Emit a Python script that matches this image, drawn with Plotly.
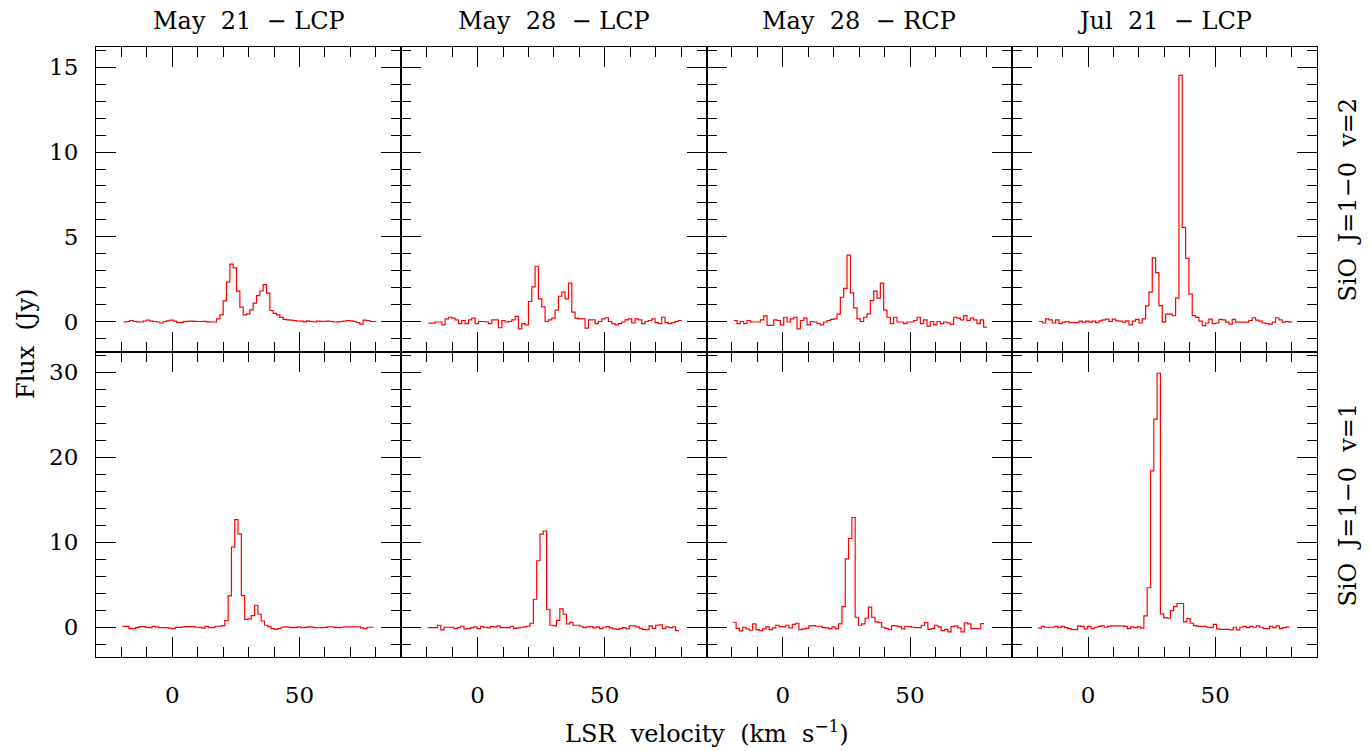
import numpy as np
import plotly.graph_objects as go
from plotly.subplots import make_subplots

# Velocity channel grids (km/s): first channel edge, channel width, number of channels
V0_V2, DV_V2 = -19.3, 1.31    # SiO v=2 spectra
V0_V1, DV_V1 = -19.66, 1.30   # SiO v=1 spectra
N_CHAN = 76

NB = "\u00a0"  # non-breaking space, keeps the wide word gaps

# Column headings and row labels
col_titles = [f"May{NB}{NB}21{NB}{NB}\u2212{NB}LCP", f"May{NB}{NB}28{NB}{NB}\u2212{NB}LCP",
              f"May{NB}{NB}28{NB}{NB}\u2212{NB}RCP", f"Jul{NB}{NB}21{NB}{NB}\u2212{NB}LCP"]
row_labels = [f"SiO{NB}{NB}J=1\u22120{NB}{NB}v=2", f"SiO{NB}{NB}J=1\u22120{NB}{NB}v=1"]
x_title = f"LSR{NB}{NB}velocity{NB}{NB}(km{NB}{NB}s<sup>\u22121</sup>)"
y_title = f"Flux{NB}{NB}(Jy)"

# Flux density (Jy) per channel, SiO J=1-0 v=2
v2_may21_lcp = [
    -0.03, 0.0, 0.06, 0.0, -0.02, -0.03, 0.03, 0.08, 0.02, 0.0,
    -0.03, -0.09, 0.0, 0.04, 0.08, 0.02, -0.05, -0.07, -0.01, 0.01,
    0.02, 0.01, 0.0, 0.0, 0.01, -0.02, -0.03, -0.03, 0.16, 0.39,
    1.22, 2.32, 3.39, 3.16, 1.79, 0.85, 0.39, 0.45, 0.69, 1.08,
    1.53, 1.8, 2.18, 1.67, 0.65, 0.48, 0.39, 0.24, 0.12, 0.1,
    0.08, 0.05, 0.03, 0.02, -0.02, 0.04, 0.0, -0.03, 0.02, 0.01,
    0.01, 0.02, 0.0, -0.03, -0.02, 0.0, 0.02, 0.06, 0.04, 0.0,
    -0.06, -0.15, 0.08, 0.06, 0.0, 0.0]
v2_may28_lcp = [
    -0.1, -0.1, -0.03, -0.03, -0.2, 0.16, 0.25, 0.2, 0.1, -0.13,
    0.06, -0.13, 0.1, 0.2, -0.13, 0.0, 0.0, -0.03, -0.13, 0.1,
    0.1, -0.37, 0.06, -0.03, 0.0, 0.1, 0.3, -0.43, -0.13, -0.2,
    1.18, 2.04, 3.26, 1.33, 0.86, 0.0, 0.1, 0.2, 0.67, 1.49,
    1.73, 1.33, 2.27, 0.55, 0.2, 0.16, 0.16, -0.39, 0.1, 0.1,
    -0.13, 0.0, 0.16, 0.22, 0.0, -0.13, -0.2, -0.13, -0.03, 0.1,
    0.16, -0.08, 0.16, 0.1, -0.13, 0.0, 0.06, 0.16, -0.07, -0.13,
    0.25, -0.07, -0.13, -0.07, 0.0, 0.06]
v2_may28_rcp = [
    0.06, -0.13, 0.0, -0.13, 0.06, -0.03, -0.03, -0.03, 0.1, 0.33,
    -0.23, -0.23, 0.1, 0.06, -0.2, 0.25, -0.03, 0.16, 0.25, -0.43,
    0.06, 0.2, -0.2, 0.0, -0.03, -0.13, -0.2, -0.03, 0.06, 0.12,
    0.16, 0.43, 1.43, 1.96, 3.92, 1.69, 0.8, 0.16, 0.0, 0.25,
    0.45, 1.24, 1.79, 1.38, 2.27, 0.67, 0.25, -0.13, 0.25, -0.03,
    -0.03, -0.13, -0.03, -0.03, 0.06, 0.25, -0.13, 0.1, -0.27, 0.0,
    -0.2, 0.0, -0.13, -0.03, -0.08, -0.17, 0.25, 0.2, 0.1, 0.35,
    0.06, 0.2, 0.1, -0.13, 0.1, -0.33]
v2_jul21_lcp = [
    0.0, -0.09, 0.16, 0.1, -0.09, 0.1, -0.13, -0.04, 0.0, -0.07,
    -0.07, -0.07, 0.02, -0.04, 0.02, -0.04, 0.02, -0.07, 0.04, 0.1,
    0.14, 0.0, 0.14, 0.04, 0.02, -0.04, 0.04, -0.2, 0.02, 0.12,
    -0.09, 0.16, 0.92, 1.73, 3.75, 2.88, 0.94, -0.04, 0.43, 0.43,
    0.34, 1.38, 14.53, 5.55, 3.73, 1.61, 0.35, 0.24, 0.02, -0.24,
    -0.09, 0.14, -0.13, -0.09, 0.12, 0.1, -0.04, -0.16, 0.12, -0.04,
    -0.04, -0.04, -0.04, 0.06, 0.22, 0.08, 0.02, -0.09, -0.13, -0.16,
    -0.04, 0.22, 0.1, -0.04, 0.0, -0.04]

# Flux density (Jy) per channel, SiO J=1-0 v=1
v1_may21_lcp = [
    0.1, 0.1, -0.15, -0.15, -0.04, 0.07, 0.07, -0.02, -0.04, 0.1,
    0.05, -0.04, -0.04, -0.04, -0.1, -0.15, -0.02, -0.02, 0.05, 0.07,
    0.07, 0.07, 0.0, -0.02, -0.11, 0.1, -0.04, -0.04, 0.12, 0.12,
    0.2, 0.78, 3.69, 9.44, 12.67, 11.0, 3.73, 0.94, 0.98, 1.37,
    2.59, 1.53, 0.74, 0.24, 0.08, -0.15, -0.24, -0.15, 0.0, 0.05,
    0.02, -0.04, -0.02, 0.04, -0.04, -0.02, 0.05, 0.02, -0.04, -0.06,
    -0.04, -0.02, 0.05, 0.06, -0.02, -0.04, 0.0, 0.04, 0.05, 0.05,
    0.04, 0.06, -0.08, -0.15, 0.0, 0.0]
v1_may28_lcp = [
    -0.04, -0.04, -0.04, 0.24, -0.31, 0.0, 0.0, 0.0, -0.15, -0.04,
    0.12, -0.2, -0.15, -0.04, 0.04, -0.15, 0.08, 0.0, -0.08, 0.08,
    0.04, 0.16, -0.04, -0.04, -0.04, 0.12, -0.12, -0.08, 0.0, 0.04,
    0.12, 0.47, 3.3, 7.83, 10.97, 11.33, 2.12, 0.24, 0.16, 0.82,
    2.16, 1.53, 0.39, 0.59, 0.24, 0.24, 0.12, -0.04, 0.04, 0.08,
    -0.08, 0.04, -0.16, 0.0, 0.08, -0.08, -0.2, -0.24, -0.16, -0.04,
    -0.2, 0.16, 0.16, 0.04, -0.12, -0.28, -0.28, 0.16, -0.12, 0.24,
    0.28, -0.16, 0.04, -0.04, 0.04, -0.4]
v1_may28_rcp = [
    0.59, -0.12, -0.43, 0.0, -0.2, -0.35, 0.39, -0.28, -0.4, -0.2,
    0.04, -0.28, -0.08, 0.24, 0.08, 0.04, 0.24, -0.08, 0.35, 0.47,
    -0.28, -0.2, -0.12, 0.16, 0.2, 0.12, 0.12, -0.04, -0.08, -0.16,
    0.04, -0.16, 0.39, 2.44, 8.04, 10.45, 12.92, 1.18, 0.24, 0.39,
    1.06, 2.36, 1.18, 0.63, 0.55, 0.0, -0.12, -0.28, 0.2, 0.16,
    0.08, -0.2, 0.12, 0.08, 0.0, -0.04, -0.04, 0.24, 0.55, -0.24,
    -0.16, 0.24, 0.04, -0.4, -0.24, -0.55, 0.08, 0.16, -0.08, -0.55,
    0.51, 0.39, -0.16, -0.16, -0.16, 0.43]
v1_jul21_lcp = [
    -0.1, 0.1, 0.0, 0.0, 0.0, 0.1, -0.04, 0.1, -0.04, -0.16,
    -0.28, -0.28, 0.16, 0.1, -0.2, 0.1, -0.16, 0.0, 0.1, 0.16,
    0.0, 0.1, 0.16, 0.16, 0.16, 0.16, 0.1, -0.16, 0.04, -0.04,
    0.04, -0.1, 1.34, 4.65, 18.4, 24.5, 29.9, 1.57, 1.14, 1.06,
    1.97, 2.44, 2.8, 2.8, 0.63, 1.02, 0.47, 0.2, 0.1, 0.1,
    0.1, 0.0, -0.04, 0.35, -0.2, -0.24, -0.24, -0.24, -0.31, 0.0,
    -0.31, 0.0, 0.1, -0.04, 0.1, 0.0, 0.16, 0.0, -0.16, -0.16,
    0.1, -0.04, 0.16, -0.16, -0.04, 0.04]

rows = [
    (V0_V2, DV_V2, [v2_may21_lcp, v2_may28_lcp, v2_may28_rcp, v2_jul21_lcp]),
    (V0_V1, DV_V1, [v1_may21_lcp, v1_may28_lcp, v1_may28_rcp, v1_jul21_lcp]),
]

FONT = "DejaVu Serif"
INK = "black"
LINE_RED = "#ff0000"
LABEL_SIZE = 24

fig = make_subplots(rows=2, cols=4, shared_xaxes=True, shared_yaxes=True,
                    horizontal_spacing=0, vertical_spacing=0)

for r, (v0, dv, spectra) in enumerate(rows, start=1):
    edges = v0 + dv * np.arange(N_CHAN + 1)
    for c, flux in enumerate(spectra, start=1):
        y = list(flux) + [flux[-1]]
        fig.add_trace(go.Scatter(x=edges, y=y, mode="lines", line_shape="hv",
                                 line=dict(color=LINE_RED, width=1.2),
                                 showlegend=False, hoverinfo="skip"),
                      row=r, col=c)

axis_common = dict(showline=True, linecolor=INK, linewidth=1, mirror="ticks",
                   ticks="inside", tickcolor=INK, tickwidth=1, ticklen=20,
                   showgrid=False, zeroline=False,
                   tickfont=dict(family=FONT, size=23, color=INK))

fig.update_xaxes(range=[-30, 90], tick0=0, dtick=50,
                 minor=dict(ticks="inside", ticklen=10, tickcolor=INK, tick0=0, dtick=10),
                 ticklabelstandoff=17, **axis_common)
fig.update_yaxes(**axis_common)
fig.update_yaxes(range=[-1.8, 16.2], tick0=0, dtick=5,
                 minor=dict(ticks="inside", ticklen=10, tickcolor=INK, tick0=0, dtick=1),
                 ticklabelstandoff=12, row=1)
fig.update_yaxes(range=[-3.5, 32.4], tick0=0, dtick=10,
                 minor=dict(ticks="inside", ticklen=10, tickcolor=INK, tick0=0, dtick=2),
                 ticklabelstandoff=12, row=2)

label_font = dict(family=FONT, size=LABEL_SIZE, color=INK)
annotations = []
for i, title in enumerate(col_titles):
    xref = "x domain" if i == 0 else f"x{i + 1} domain"
    annotations.append(dict(text=title, xref=xref, yref="paper", x=0.5, y=1,
                            xanchor="center", yanchor="bottom", yshift=10,
                            showarrow=False, font=label_font))
for r, label in enumerate(row_labels):
    annotations.append(dict(text=label, xref="paper", yref="paper",
                            x=1, y=0.75 - 0.5 * r, xanchor="left", yanchor="middle",
                            xshift=14, textangle=-90, showarrow=False,
                            font=label_font))
annotations.append(dict(text=y_title, xref="paper", yref="paper",
                        x=0, y=0.5, xanchor="right", yanchor="middle",
                        xshift=-54, yshift=8, textangle=-90, showarrow=False,
                        font=label_font))
annotations.append(dict(text=x_title, xref="paper", yref="paper",
                        x=0.5, y=0, xanchor="center", yanchor="top",
                        yshift=-57, showarrow=False, font=label_font))

fig.update_layout(width=1370, height=751,
                  margin=dict(l=96, r=53, t=47, b=94),
                  paper_bgcolor="white", plot_bgcolor="white",
                  annotations=annotations)

fig.write_html("out.html")
